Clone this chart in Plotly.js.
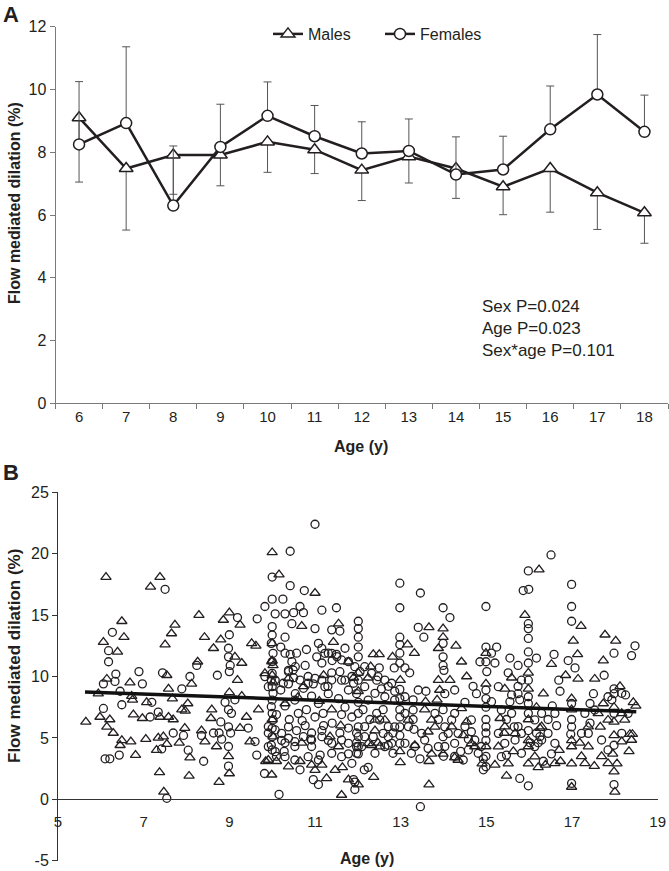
<!DOCTYPE html>
<html>
<head>
<meta charset="utf-8">
<script src="https://cdn.plot.ly/plotly-3.0.1.min.js"></script>
<style>
html,body{margin:0;padding:0;background:#fff;}
#chart{width:669px;height:871px;}
</style>
</head>
<body>
<div id="chart"></div>
<script>
// ---------- Panel A data ----------
var ages = ['6','7','8','9','10','11','12','13','14','15','16','17','18'];
var maleMean = [9.1, 7.48, 7.91, 7.91, 8.33, 8.08, 7.43, 7.86, 7.48, 6.9, 7.48, 6.71, 6.07];
var maleErrMinus = [2.05, 1.96, 1.25, 0.98, 0.97, 0.76, 0.97, 0.84, 0.95, 0.89, 1.39, 1.17, 0.97];
var femaleMean = [8.25, 8.93, 6.3, 8.17, 9.16, 8.51, 7.96, 8.04, 7.29, 7.45, 8.73, 9.84, 8.65];
var femaleErrPlus = [2.0, 2.43, 1.9, 1.36, 1.08, 0.98, 1.01, 1.02, 1.2, 1.06, 1.38, 1.91, 1.17];
var statsText = ['Sex P=0.024', 'Age P=0.023', 'Sex*age P=0.101'];

// ---------- Panel B data ([age, FMD]) ----------
var malePoints = [
[10.0,20.1],[6.12,18.1],[7.38,18.1],[7.16,17.3],[10.16,18.3],[11.0,16.8],[8.29,15.0],[9.0,15.2],[8.86,14.6],[9.25,14.2],
[6.49,14.5],[7.73,14.2],[7.65,13.5],[6.06,12.8],[6.54,13.2],[6.39,12.0],[7.5,12.6],[8.42,13.2],[8.8,13.0],[8.63,12.3],
[9.13,11.6],[9.29,11.1],[9.52,12.7],[9.62,12.5],[8.26,11.2],[9.19,9.7],[7.54,10.1],[6.14,9.8],[6.68,9.5],[7.58,9.0],
[8.12,9.4],[5.94,8.6],[6.72,8.4],[6.74,8.1],[7.07,7.9],[7.67,8.2],[8.03,7.8],[7.89,7.3],[7.97,7.2],[7.38,6.7],
[7.58,6.7],[7.69,6.5],[6.97,6.6],[6.76,6.9],[5.98,6.7],[6.21,6.5],[5.65,6.3],[6.14,5.9],[6.29,5.4],[6.49,4.8],
[6.45,4.4],[6.7,4.7],[7.05,4.9],[7.34,5.0],[7.46,5.1],[7.3,4.0],[7.54,4.5],[7.83,4.6],[7.96,5.8],[8.08,3.4],
[6.81,3.6],[7.37,2.2],[8.06,1.9],[7.47,0.6],[8.35,5.6],[8.43,4.7],[8.7,4.3],[8.76,1.4],[8.59,7.3],[8.57,6.6],
[9.0,8.7],[9.29,8.4],[8.98,3.5],[9.0,2.1],[9.25,5.8],[9.48,4.7],[9.4,6.7],[9.68,7.3],[9.85,3.1],[9.99,2.0],
[10.1,3.1],[10.0,12.7],[10.0,11.3],[10.02,10.9],[10.0,10.1],[10.02,9.5],[10.0,6.5],[10.02,5.1],[10.69,14.1],[11.43,12.8],
[11.55,14.3],[11.78,11.2],[10.73,9.2],[11.39,7.3],[11.35,5.1],[10.69,4.6],[11.55,4.3],[10.65,3.1],[10.92,2.8],[11.16,2.8],
[11.27,1.7],[11.62,0.35],[11.64,2.6],[11.78,1.6],[10.6,8.3],[11.1,8.0],[11.6,6.0],[11.9,9.9],[10.3,7.8],[11.2,10.1],
[9.83,10.26],[9.99,11.21],[10.38,9.85],[9.91,3.2],[10.38,2.66],[11.0,2.38],[11.47,2.38],
[16.23,18.7],[17.21,14.1],[15.9,15.0],[15.98,10.3],[15.98,9.0],[15.98,6.5],[15.98,4.8],[15.98,4.3],[15.98,2.9],[13.66,14.0],
[13.99,13.9],[13.99,13.2],[13.88,12.3],[14.29,12.5],[14.42,11.2],[14.54,10.0],[13.16,12.6],[13.32,11.9],[12.99,9.7],[12.98,3.9],
[12.99,3.0],[13.56,7.3],[13.64,5.5],[13.33,4.4],[13.66,3.1],[13.72,3.7],[13.66,1.2],[12.36,11.8],[12.5,11.8],[12.3,10.8],
[12.24,9.9],[12.81,11.6],[12.01,10.3],[12.01,8.8],[12.01,1.2],[12.4,5.6],[12.32,4.4],[12.47,4.6],[12.37,1.8],[13.58,7.95],
[13.85,8.1],[13.8,5.9],[13.99,3.7],[14.26,3.4],[13.91,8.9],[14.15,9.7],[13.88,9.7],[14.42,7.4],[14.54,6.3],[14.46,5.2],
[14.73,4.3],[14.9,2.9],[14.99,11.9],[14.99,9.4],[14.99,4.3],[15.2,2.8],[15.32,6.6],[15.42,5.4],[15.63,3.9],[15.47,1.9],
[15.51,2.9],[15.59,9.9],[15.43,9.0],[16.25,5.8],[16.21,2.6],[16.38,2.8],[16.17,7.5],[16.33,8.6],[16.52,11.0],[16.7,4.0],
[16.73,3.1],[16.85,10.1],[17.03,12.9],[17.13,11.8],[17.14,9.8],[16.99,8.2],[16.99,7.3],[16.99,4.8],[16.99,4.3],[17.18,4.6],
[16.99,2.9],[16.99,1.0],[17.22,3.5],[17.53,9.8],[17.66,5.9],[17.73,7.8],[17.69,3.5],[17.52,2.7],[17.77,13.4],[18.02,12.9],
[17.73,11.3],[18.12,9.2],[17.98,7.5],[17.98,6.3],[17.98,5.2],[17.95,3.7],[18.05,2.9],[17.98,2.25],[18.0,0.6],[18.16,4.7],
[18.35,5.3],[18.41,5.3],[18.33,3.9],[18.16,7.0],[18.43,7.9],[18.49,7.6],
[12.4,6.46],[12.63,6.46],[12.24,4.56],[12.51,4.29],[13.18,6.46],[13.72,6.46],[14.19,5.92],[14.65,4.56],[14.34,3.2],
[15.43,5.92],[15.67,5.37],[16.29,5.92],[15.28,4.29],[16.13,3.47],[16.6,2.93],
[17.38,4.29],[17.61,7.0],[17.84,6.46],[18.23,6.46],[18.39,4.83],[17.3,2.93],[17.84,2.93],[17.38,5.92]
];
var femalePoints = [
[11.0,22.4],[10.42,20.2],[7.5,17.1],[10.0,18.1],[10.42,17.4],[10.75,17.0],[10.0,16.3],[10.25,16.3],[9.83,15.7],[10.65,15.7],
[10.07,15.1],[10.3,15.1],[10.5,15.2],[10.73,15.2],[11.16,15.4],[11.5,15.6],[9.19,14.8],[9.65,14.7],[6.27,13.6],[6.18,12.1],
[6.18,11.2],[9.0,13.4],[8.98,12.3],[8.98,11.6],[9.02,10.9],[9.0,10.4],[8.24,10.9],[8.72,10.1],[8.08,10.0],[6.89,10.4],
[6.35,10.2],[6.33,9.6],[6.06,9.4],[6.97,9.4],[7.44,10.3],[7.89,9.0],[6.45,8.8],[6.49,7.7],[7.19,7.9],[7.34,7.1],
[7.15,6.7],[6.06,7.4],[7.42,4.1],[7.69,5.4],[7.93,5.2],[8.04,4.0],[6.1,3.3],[6.21,3.3],[6.43,3.6],[7.54,0.08],
[8.35,5.2],[8.4,3.1],[8.63,5.4],[8.76,5.4],[8.82,4.9],[8.98,5.9],[9.03,5.4],[9.05,7.0],[8.8,6.3],[8.98,7.3],
[8.9,7.9],[9.13,8.1],[8.98,4.3],[8.98,2.7],[9.6,4.7],[9.44,5.8],[9.64,3.6],[9.82,2.1],[10.16,0.4],[10.1,3.5],
[10.28,3.9],[10.0,14.06],[10.0,13.38],[9.98,12.7],[10.02,11.89],[10.0,11.21],[10.0,10.26],[9.98,9.71],[10.0,9.17],[10.02,8.63],
[10.0,8.08],[9.98,7.54],[10.0,7.0],[10.02,6.46],[10.0,5.78],[10.0,5.1],[9.98,4.42],[10.0,4.02],[10.3,13.2],[10.46,14.3],
[10.57,11.9],[10.42,11.8],[10.3,11.9],[10.54,10.8],[10.38,10.5],[10.77,10.9],[11.04,11.6],[11.16,11.1],[11.08,12.7],[11.58,13.7],
[11.39,13.8],[11.31,11.9],[11.5,11.8],[10.84,10.0],[10.96,9.4],[11.16,9.7],[11.39,10.3],[11.62,9.7],[11.86,10.0],[10.38,9.4],
[10.54,8.6],[10.92,8.4],[11.08,7.8],[11.31,8.6],[11.55,8.2],[11.78,8.9],[11.97,8.6],[10.3,7.6],[10.61,7.0],[10.8,7.3],
[11.0,6.7],[11.19,7.0],[11.62,6.9],[11.86,6.7],[10.38,5.9],[10.57,5.6],[10.77,6.0],[10.92,5.4],[11.16,5.6],[11.58,5.4],
[11.78,5.8],[11.97,5.4],[10.3,4.6],[10.53,4.3],[10.92,4.3],[11.12,3.6],[11.31,4.8],[11.78,3.7],[11.97,4.6],[10.65,2.4],
[10.96,1.6],[11.08,1.2],[11.93,0.8],[11.9,1.6],[9.91,5.4],[10.22,4.8],[10.1,6.9],[10.2,8.9],[10.4,6.5],[10.7,6.4],
[10.9,4.9],[11.4,6.2],[11.7,7.5],[11.2,6.0],[10.5,9.9],[11.3,9.2],[10.8,12.2],[11.0,13.9],[10.2,12.4],[11.4,11.3],
[11.7,12.3],
[9.83,9.99],[10.07,9.71],[9.91,9.17],[10.26,9.45],[10.38,10.39],[10.46,11.21],[10.49,10.53],[10.65,9.71],[10.84,9.45],[11.0,9.85],
[10.73,9.04],[10.53,8.08],[11.16,12.29],[11.23,11.89],[11.39,11.89],[11.51,11.62],[11.62,11.35],[11.78,11.21],[11.93,10.8],[12.05,10.39],
[11.58,10.39],[11.7,9.71],[11.9,9.45],[11.39,9.71],[11.23,9.17],[9.91,5.92],[10.07,5.65],[10.22,5.37],[10.38,4.97],[10.53,4.69],
[10.73,5.1],[10.92,4.83],[11.16,5.1],[11.39,4.56],[11.62,4.83],[11.78,4.56],[11.97,4.29],[9.91,4.29],[10.07,3.88],[10.3,3.47],
[10.53,3.2],[10.84,3.47],[11.08,3.2],[11.39,3.75],[11.62,3.47],[11.86,2.93],[11.97,3.75],
[16.51,19.9],[15.98,18.6],[15.86,17.0],[15.99,17.1],[12.98,17.6],[13.46,16.8],[12.98,15.6],[13.99,15.6],[14.15,14.8],[14.99,15.7],
[16.99,17.5],[16.99,15.7],[16.99,14.5],[15.98,14.3],[15.98,13.9],[15.98,13.1],[15.98,12.0],[15.98,11.1],[16.17,11.5],[15.98,9.7],
[15.98,8.35],[15.98,7.8],[15.98,7.0],[15.98,5.6],[15.82,9.7],[15.74,8.6],[15.78,8.1],[13.41,14.0],[13.54,13.2],[13.99,12.7],
[13.99,11.6],[13.99,10.9],[14.01,10.5],[12.98,13.2],[12.98,12.6],[12.98,11.9],[12.98,11.1],[12.85,10.7],[13.1,10.7],[13.21,10.3],
[12.98,8.95],[12.98,8.2],[12.98,7.3],[12.98,6.7],[12.98,5.9],[12.98,5.2],[12.98,4.55],[13.41,8.9],[13.59,8.8],[13.29,6.5],
[13.31,5.7],[13.33,4.3],[13.45,3.3],[13.46,-0.6],[12.5,10.7],[12.44,9.7],[12.55,9.0],[12.71,9.2],[12.86,8.8],[12.01,14.5],
[12.01,13.9],[12.01,13.2],[12.01,12.4],[12.01,11.6],[12.01,9.7],[12.01,7.9],[12.01,7.0],[12.01,5.9],[12.01,5.1],[12.01,4.3],
[12.01,3.7],[11.93,1.4],[12.12,7.3],[12.28,6.5],[12.44,7.0],[12.59,7.3],[12.16,5.1],[12.71,5.1],[12.71,4.4],[12.86,5.9],
[12.82,5.4],[12.24,2.6],[12.15,2.4],[13.29,8.1],[13.1,8.35],[13.88,6.5],[14.03,5.9],[13.99,5.1],[14.03,4.3],[14.0,3.5],
[14.26,3.5],[14.4,3.9],[14.46,3.2],[14.03,8.6],[14.26,8.9],[13.99,7.3],[14.5,7.9],[14.65,5.5],[14.58,4.9],[14.88,4.3],
[14.93,2.4],[14.69,9.2],[14.77,8.6],[14.99,12.4],[14.99,11.2],[15.01,10.4],[14.85,11.2],[15.2,11.1],[15.24,12.4],[15.12,11.9],
[14.99,8.9],[14.99,8.2],[14.99,7.5],[14.99,6.5],[14.99,5.9],[14.99,5.4],[14.99,4.8],[14.99,3.5],[14.99,2.65],[14.93,3.3],
[15.12,7.95],[15.47,6.5],[15.65,5.9],[15.47,3.6],[15.78,1.7],[15.98,1.1],[15.55,11.5],[15.74,10.9],[15.51,10.3],[15.59,8.5],
[15.74,9.2],[15.55,7.95],[16.17,5.4],[16.21,4.6],[16.02,4.6],[16.25,5.1],[16.33,3.1],[16.58,11.8],[16.69,9.7],[16.72,8.8],
[16.54,7.6],[16.44,6.5],[16.64,6.0],[16.52,3.7],[16.91,11.3],[17.07,10.7],[16.99,7.8],[16.99,6.5],[16.99,5.9],[16.97,5.3],
[16.99,1.3],[17.42,7.8],[17.5,8.6],[17.42,6.2],[17.75,10.1],[17.98,11.9],[18.39,11.7],[18.47,12.5],[17.98,9.0],[17.98,8.6],
[18.25,8.5],[17.93,8.1],[17.98,7.0],[17.98,4.4],[17.98,1.2],
[12.16,10.8],[12.32,10.26],[12.47,9.99],[12.63,9.71],[12.79,9.45],[12.16,9.17],[12.4,8.63],[12.63,8.35],[12.86,8.08],[12.24,8.08],
[12.51,6.46],[12.71,5.92],[12.16,5.92],[12.36,5.1],[12.59,5.37],[12.79,4.56],[12.09,4.29],[12.4,3.75],[12.63,4.29],[12.82,3.75],
[13.1,7.0],[13.29,7.27],[13.18,5.92],[13.49,5.37],[13.56,4.83],[13.8,7.0],[14.26,7.0],[14.34,5.37],[14.5,5.92],[14.65,6.46],
[14.73,4.83],[14.26,4.56],[14.58,4.02],[14.81,3.75],[13.88,4.29],[13.1,4.56],[13.25,3.75],[13.64,4.15],[14.11,5.37],[14.19,6.46],
[15.28,9.17],[15.35,7.27],[15.59,7.0],[15.74,5.92],[15.82,5.37],[16.13,6.46],[16.29,7.0],[16.29,4.83],[16.44,5.37],[16.6,7.0],
[15.28,5.37],[15.43,4.56],[15.67,4.83],[16.13,4.29],[16.6,4.56],[15.35,3.47],[15.82,3.75],
[17.3,7.0],[17.53,7.27],[17.84,8.35],[18.16,8.63],[18.31,7.0],[17.38,5.37],[17.69,4.83],[18.16,5.37],[17.84,4.02],[17.22,5.37]
];
var trendAge = [5.63, 18.5];
var trendFMD = [8.74, 7.13];
var yBTickVals = [-5, 0, 5, 10, 15, 20, 25];
var yBTickText = ['-5', '0', '5', '10', '15', '20', '25'];

// ---------- layout geometry ----------
var W = 669, H = 871;
function px(v){ return v / W; }
function py(v){ return 1 - v / H; }
var ink = '#231f20';
var fontFam = 'Liberation Sans, Arial, sans-serif';

var yA = [py(403.3), py(26.7)];
var yB = [py(860.7), py(492.3)];
var yBrange = [-5, 25];
var xAxisBPos = yB[0] + (0 - yBrange[0]) / (yBrange[1] - yBrange[0]) * (yB[1] - yB[0]);

var traces = [
  {
    x: ages, y: maleMean, name: 'Males', type: 'scatter', mode: 'lines+markers',
    xaxis: 'x', yaxis: 'y',
    line: {color: ink, width: 2.5},
    marker: {symbol: 'triangle-up', size: 12, color: '#fff', line: {color: ink, width: 1.5}},
    error_y: {type: 'data', symmetric: false, array: maleErrMinus.map(function(){return 0;}), arrayminus: maleErrMinus,
              color: '#555', thickness: 1, width: 4}
  },
  {
    x: ages, y: femaleMean, name: 'Females', type: 'scatter', mode: 'lines+markers',
    xaxis: 'x', yaxis: 'y',
    line: {color: ink, width: 2.5},
    marker: {symbol: 'circle', size: 11, color: '#fff', line: {color: ink, width: 1.5}},
    error_y: {type: 'data', symmetric: false, array: femaleErrPlus, arrayminus: femaleErrPlus.map(function(){return 0;}),
              color: '#555', thickness: 1, width: 4}
  },
  {
    x: malePoints.map(function(p){return p[0];}), y: malePoints.map(function(p){return p[1];}),
    type: 'scatter', mode: 'markers', xaxis: 'x2', yaxis: 'y2', showlegend: false,
    marker: {symbol: 'triangle-up-open', size: 9, color: ink, line: {width: 1.3, color: ink}}
  },
  {
    x: femalePoints.map(function(p){return p[0];}), y: femalePoints.map(function(p){return p[1];}),
    type: 'scatter', mode: 'markers', xaxis: 'x2', yaxis: 'y2', showlegend: false,
    marker: {symbol: 'circle-open', size: 8, color: ink, line: {width: 1.3, color: ink}}
  },
  {
    x: trendAge, y: trendFMD, type: 'scatter', mode: 'lines', xaxis: 'x2', yaxis: 'y2', showlegend: false,
    line: {color: '#111', width: 3.5}
  }
];

var layout = {
  width: W, height: H,
  margin: {l: 0, r: 0, t: 0, b: 0},
  paper_bgcolor: '#fff', plot_bgcolor: 'rgba(0,0,0,0)',
  font: {family: fontFam, color: ink, size: 15},
  showlegend: true,
  legend: {orientation: 'h', x: px(268), xanchor: 'left', y: py(34), yanchor: 'middle',
           font: {size: 16, color: ink}, bgcolor: 'rgba(0,0,0,0)', itemwidth: 30,
           entrywidth: 67, entrywidthmode: 'pixels'},
  xaxis: {
    domain: [px(55.5), px(668)], anchor: 'y', type: 'category', range: [-0.5, 12.5],
    showline: true, linecolor: '#7a7a7a', linewidth: 1, showgrid: false, zeroline: false,
    ticks: 'outside', tickson: 'boundaries', ticklen: 5, tickcolor: '#7a7a7a',
    tickfont: {size: 15, color: ink}, automargin: false, fixedrange: true
  },
  yaxis: {
    domain: yA, anchor: 'x', range: [0, 12], dtick: 2,
    showline: true, linecolor: '#7a7a7a', linewidth: 1, showgrid: false, zeroline: false,
    ticks: 'outside', ticklen: 5, tickcolor: '#7a7a7a',
    tickfont: {size: 16, color: ink}, automargin: false, fixedrange: true
  },
  xaxis2: {
    domain: [px(58), px(657.7)], anchor: 'free', position: xAxisBPos, range: [5, 19], dtick: 2, tick0: 5,
    showline: true, linecolor: '#333', linewidth: 1, showgrid: false, zeroline: false,
    ticks: 'outside', ticklen: 9, tickcolor: 'rgba(0,0,0,0)',
    tickfont: {size: 15, color: ink}, automargin: false, fixedrange: true
  },
  yaxis2: {
    domain: yB, anchor: 'x2', range: yBrange, tickmode: 'array', tickvals: yBTickVals, ticktext: yBTickText,
    showline: true, linecolor: '#333', linewidth: 1, showgrid: false, zeroline: false,
    ticks: 'outside', ticklen: 5, tickcolor: '#333',
    tickfont: {size: 16, color: ink}, automargin: false, fixedrange: true
  },
  annotations: [
    {text: '<b>A</b>', xref: 'paper', yref: 'paper', x: px(1), y: py(14), xanchor: 'left', yanchor: 'middle',
     showarrow: false, font: {size: 22, color: ink}},
    {text: '<b>B</b>', xref: 'paper', yref: 'paper', x: px(1), y: py(472), xanchor: 'left', yanchor: 'middle',
     showarrow: false, font: {size: 22, color: ink}},
    {text: '<b>Flow mediated dilation (%)</b>', xref: 'paper', yref: 'paper', x: px(14), y: py(203),
     xanchor: 'center', yanchor: 'middle', textangle: -90, showarrow: false, font: {size: 16, color: ink}},
    {text: '<b>Age (y)</b>', xref: 'paper', yref: 'paper', x: px(361), y: py(446),
     xanchor: 'center', yanchor: 'middle', showarrow: false, font: {size: 16, color: ink}},
    {text: '<b>Flow mediated dilation (%)</b>', xref: 'paper', yref: 'paper', x: px(14), y: py(656),
     xanchor: 'center', yanchor: 'middle', textangle: -90, showarrow: false, font: {size: 17, color: ink}},
    {text: '<b>Age (y)</b>', xref: 'paper', yref: 'paper', x: px(367), y: py(858),
     xanchor: 'center', yanchor: 'middle', showarrow: false, font: {size: 16, color: ink}},
    {text: statsText.join('<br>'), xref: 'paper', yref: 'paper', x: px(480), y: py(328),
     xanchor: 'left', yanchor: 'middle', align: 'left', showarrow: false, font: {size: 17, color: ink}}
  ]
};

Plotly.newPlot('chart', traces, layout, {staticPlot: true, displayModeBar: false});
</script>
</body>
</html>
